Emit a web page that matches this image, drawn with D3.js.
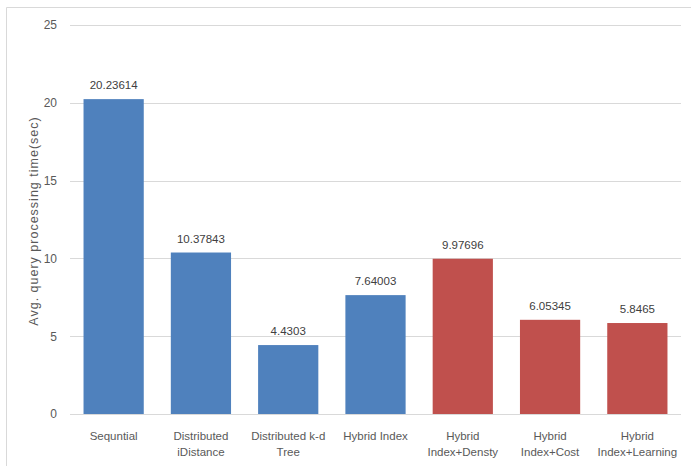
<!DOCTYPE html>
<html>
<head>
<meta charset="utf-8">
<script src="https://cdn.jsdelivr.net/npm/d3@7"></script>
<style>
  html, body { margin: 0; padding: 0; background: #fff; }
  svg { display: block; font-family: "Liberation Sans", Arial, sans-serif; }
</style>
</head>
<body>
<svg id="chart" width="691" height="466"></svg>
<script>
// Average query processing time per indexing method
const categories = [
  ["Sequntial"],
  ["Distributed", "iDistance"],
  ["Distributed k-d", "Tree"],
  ["Hybrid Index"],
  ["Hybrid", "Index+Densty"],
  ["Hybrid", "Index+Cost"],
  ["Hybrid", "Index+Learning"]
];
const values = [20.23614, 10.37843, 4.4303, 7.64003, 9.97696, 6.05345, 5.8465];
const valueLabels = ["20.23614", "10.37843", "4.4303", "7.64003", "9.97696", "6.05345", "5.8465"];
const groups = ["base", "base", "base", "base", "hybrid", "hybrid", "hybrid"];
const yTicks = [0, 5, 10, 15, 20, 25];
const yTitle = "Avg. query processing time(sec)";

const svg = d3.select("#chart");
const plotLeft = 70, plotRight = 681, plotTop = 25, plotBottom = 414;

const x = d3.scaleBand()
  .domain(d3.range(values.length))
  .range([plotLeft, plotRight])
  .paddingInner(0.31)
  .paddingOuter(0.155);

const y = d3.scaleLinear().domain([0, 25]).range([plotBottom, plotTop]);

const color = d3.scaleOrdinal().domain(["base", "hybrid"]).range(["#4F81BD", "#C0504D"]);

// chart frame (left and top edges)
svg.append("path")
  .attr("d", `M6.5,466 V7.5 H691`)
  .attr("fill", "none")
  .attr("stroke", "#D9D9D9")
  .attr("stroke-width", 1);

// gridlines
svg.append("g")
  .selectAll("line")
  .data(yTicks)
  .join("line")
  .attr("x1", plotLeft).attr("x2", plotRight)
  .attr("y1", d => Math.round(y(d)) + 0.5)
  .attr("y2", d => Math.round(y(d)) + 0.5)
  .attr("stroke", "#D9D9D9")
  .attr("stroke-width", 1);

// y axis tick labels
const yAxis = d3.axisLeft(y).tickValues(yTicks).tickSize(0).tickPadding(0);
const yg = svg.append("g")
  .attr("transform", `translate(57,0)`)
  .call(yAxis);
yg.select(".domain").remove();
yg.selectAll("text")
  .attr("fill", "#595959")
  .attr("font-size", "12px")
  .attr("font-family", "'Liberation Sans', Arial, sans-serif");

// y axis title
svg.append("text")
  .attr("transform", `translate(38,221) rotate(-90)`)
  .attr("text-anchor", "middle")
  .attr("fill", "#595959")
  .attr("font-size", "12.5px")
  .attr("letter-spacing", "1px")
  .text(yTitle);

// bars
svg.append("g")
  .selectAll("rect")
  .data(values)
  .join("rect")
  .attr("x", (d, i) => x(i))
  .attr("width", x.bandwidth())
  .attr("y", d => y(d))
  .attr("height", d => y(0) - y(d))
  .attr("fill", (d, i) => color(groups[i]));

// value labels
svg.append("g")
  .selectAll("text")
  .data(values)
  .join("text")
  .attr("x", (d, i) => x(i) + x.bandwidth() / 2)
  .attr("y", d => y(d) - 10)
  .attr("text-anchor", "middle")
  .attr("fill", "#404040")
  .attr("font-size", "11.5px")
  .text((d, i) => valueLabels[i]);

// category labels
const cat = svg.append("g")
  .selectAll("text")
  .data(categories)
  .join("text")
  .attr("x", (d, i) => x(i) + x.bandwidth() / 2)
  .attr("y", 440)
  .attr("text-anchor", "middle")
  .attr("fill", "#595959")
  .attr("font-size", "11.5px");
cat.selectAll("tspan")
  .data(d => d)
  .join("tspan")
  .attr("x", function () { return d3.select(this.parentNode).attr("x"); })
  .attr("dy", (d, j) => j === 0 ? 0 : 16)
  .text(d => d);
</script>
</body>
</html>
